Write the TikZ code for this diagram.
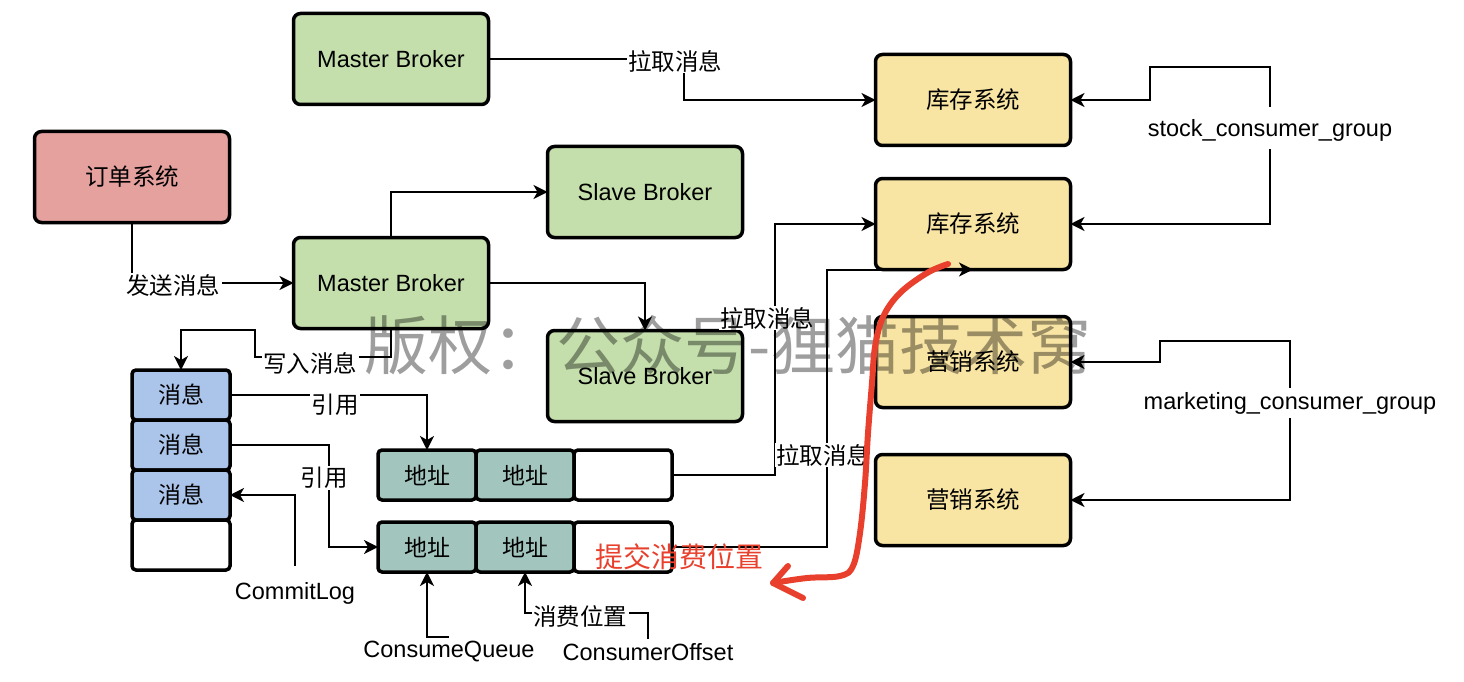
\documentclass[tikz,border=0pt]{standalone}
\usepackage{fontspec}
\setmainfont{Liberation Sans}
\newfontfamily\cjk{Noto Sans CJK SC}
\usetikzlibrary{arrows.meta}
\definecolor{brokergreen}{HTML}{C4DFAC}
\definecolor{orderred}{HTML}{E5A19E}
\definecolor{sysyellow}{HTML}{F9E5A3}
\definecolor{msgblue}{HTML}{ABC4EA}
\definecolor{addrteal}{HTML}{A2C6BE}
\definecolor{penred}{HTML}{E8402C}
\begin{document}
\begin{tikzpicture}[x=1pt,y=-1pt,
  box/.style={draw, line width=3.5pt, rounded corners=7pt, inner sep=0pt, outer sep=0pt,
    minimum width=195pt, minimum height=91pt, font=\fontsize{23.5}{28}\selectfont},
  cbox/.style={box, font=\cjk\fontsize{23.5}{28}\selectfont},
  cell/.style={draw, line width=3.5pt, rounded corners=4pt, inner sep=0pt, outer sep=0pt,
    minimum width=98pt, minimum height=50pt, font=\cjk\fontsize{23}{28}\selectfont},
  arr/.style={draw, line width=2pt, -{Stealth[length=14pt,width=14pt,inset=4pt]}},
  plain/.style={draw, line width=2pt},
  lbl/.style={fill=white, inner sep=1.5pt, font=\cjk\fontsize{23.5}{28}\selectfont},
  tlbl/.style={inner sep=6pt, font=\fontsize{23.5}{28}\selectfont},
  clbl/.style={inner sep=6pt, font=\cjk\fontsize{23.5}{28}\selectfont}]
\useasboundingbox (0,0) rectangle (1464,682);

% brokers and systems
\node[box, fill=brokergreen] (mb1) at (391,59) {Master Broker};
\node[cbox, fill=orderred] (order) at (132,177) {订单系统};
\node[box, fill=brokergreen] (sb1) at (645,192) {Slave Broker};
\node[box, fill=brokergreen] (mb2) at (391,283) {Master Broker};
\node[box, fill=brokergreen] (sb2) at (645,376) {Slave Broker};
\node[cbox, fill=sysyellow] (kc1) at (973,100) {库存系统};
\node[cbox, fill=sysyellow] (kc2) at (973,224) {库存系统};
\node[cbox, fill=sysyellow] (yx1) at (973,362) {营销系统};
\node[cbox, fill=sysyellow] (yx2) at (973,500) {营销系统};

% CommitLog cells
\node[cell, fill=msgblue] (m1) at (181,395) {消息};
\node[cell, fill=msgblue] (m2) at (181,445) {消息};
\node[cell, fill=msgblue] (m3) at (181,495) {消息};
\node[cell, fill=white] (m4) at (181,545) {};

% ConsumeQueue cells
\node[cell, fill=addrteal] (a11) at (427,475) {地址};
\node[cell, fill=addrteal] (a12) at (525,475) {地址};
\node[cell, fill=white] (a13) at (623,475) {};
\node[cell, fill=addrteal] (a21) at (427,547) {地址};
\node[cell, fill=addrteal] (a22) at (525,547) {地址};
\node[cell, fill=white] (a23) at (623,547) {};

% free-standing captions
\node[tlbl] (cl) at (295,593) {CommitLog};
\node[tlbl] (cq) at (449,652) {ConsumeQueue};
\node[tlbl] (co) at (648,652) {ConsumerOffset};
\node[tlbl] (sg) at (1270,130) {stock\_consumer\_group};
\node[tlbl] (mg) at (1290,403) {marketing\_consumer\_group};

% bend points
\coordinate (c1) at (684,59);
\coordinate (w1) at (391,357);
\coordinate (w2) at (255,357);
\coordinate (w3) at (255,330);
\coordinate (w4) at (181,330);
\coordinate (r2) at (329,445);
\coordinate (q1) at (775,475);
\coordinate (q2) at (827,547);
\coordinate (offc) at (580,613);
\coordinate (s1) at (1150,67);
\coordinate (g1) at (1160,341);

% connectors
\draw[arr] (mb1.east) -- (c1) |- (kc1.west);
\draw[arr] (order.south) |- (mb2.west);
\draw[arr] (mb2.north) |- (sb1.west);
\draw[arr] (mb2.east) -| (sb2.north);
\draw[arr] (mb2.south) -- (w1) -- (w2) -- (w3) -- (w4) -- (m1.north);
\draw[arr] (m1.east) -| (a11.north);
\draw[arr] (m2.east) -- (r2) |- (a21.west);
\draw[arr] ([yshift=10pt]cl.north) |- (m3.east);
\draw[arr] ([yshift=-2pt]cq.north) -| (a21.south);
\draw[arr] ([yshift=-2pt]co.north) |- (offc) -| (a22.south);
\draw[arr] (a13.east) -- (q1) |- (kc2.west);
\draw[arr] (a23.east) -- (q2) |- (kc2.south);
\draw[arr] ([yshift=6pt]sg.north) |- (s1) |- (kc1.east);
\draw[arr] ([yshift=-2pt]sg.south) |- (kc2.east);
\draw[arr] ([yshift=-2pt]mg.north) |- (g1) |- (yx1.east);
\draw[arr] ([yshift=2pt]mg.south) |- (yx2.east);

% connector labels
\node[lbl] (l1) at (675,61) {拉取消息};
\node[lbl] (l2) at (173,285) {发送消息};
\node[lbl] (l3) at (310,363) {写入消息};
\node[lbl] (l4) at (335,405) {引用};
\node[lbl] (l5) at (324,478) {引用};
\node[lbl] (l6) at (580,616) {消费位置};
\node[lbl] (l7) at (767,318) {拉取消息};
\node[lbl] (l8) at (823,455) {拉取消息};

% watermark
\node[opacity=0.38, inner sep=0pt, font=\cjk\fontsize{64}{70}\selectfont] (wm) at (728,345) {版权：公众号-狸猫技术窝};

% hand-drawn annotation
\node[text=penred, inner sep=0pt, font=\cjk\fontsize{28}{32}\selectfont] (commit) at (679,557) {提交消费位置};
\draw[penred, line width=6pt, line cap=round, line join=round]
  plot[smooth, tension=0.6] coordinates {(948,264) (927,273) (900,293) (883,317) (875,347) (872,383)
    (868,433) (865,483) (860,533) (853,566) (840,576) (807,578) (773,583)};
\draw[penred, line width=6pt, line cap=round, line join=round] (788,566) -- (773,583) -- (803,598);
\end{tikzpicture}
\end{document}
